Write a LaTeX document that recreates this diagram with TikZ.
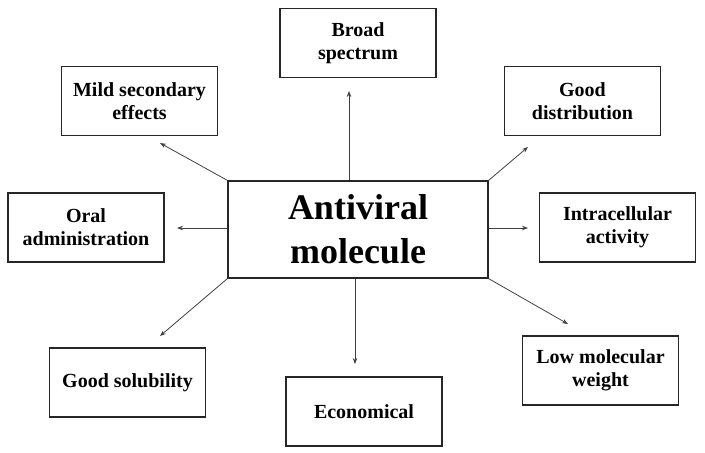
\documentclass[tikz,border=0pt]{standalone}
\usepackage{fontspec}
\setmainfont{Liberation Serif}
\usetikzlibrary{arrows.meta}
\begin{document}
\begin{tikzpicture}[x=1pt,y=-1pt,
  leaf/.style={draw=black!85,line width=1.2pt,minimum width=156pt,minimum height=69pt,
    align=center,inner sep=2pt,font=\fontsize{20}{23}\selectfont\bfseries},
  hub/.style={draw=black!85,line width=1.2pt,minimum width=260pt,minimum height=97pt,
    align=center,inner sep=2pt,font=\fontsize{36}{44}\selectfont\bfseries},
  link/.style={draw=black!75,line width=0.8pt,-{Stealth[length=6pt,width=4.5pt]}}]
\useasboundingbox (0,0) rectangle (705,453);
\node[hub] (c) at (358,229.5) {Antiviral\\molecule};
\node[leaf] (broad) at (358,43) {Broad\\spectrum};
\node[leaf] (mild) at (139.5,101) {Mild secondary\\effects};
\node[leaf] (oral) at (86,227.5) {Oral\\administration};
\node[leaf] (dist) at (582.5,101) {Good\\distribution};
\node[leaf] (intra) at (617.5,227.5) {Intracellular\\activity};
\node[leaf] (sol) at (127.5,382.5) {Good solubility};
\node[leaf] (econ) at (364,411.5) {Economical};
\node[leaf] (low) at (600.5,370.5) {Low molecular\\weight};
\coordinate (tb) at (349,91);
\coordinate (tm) at (160,143);
\coordinate (to) at (177,228);
\coordinate (td) at (528,147);
\coordinate (ti) at (528,228);
\coordinate (ts) at (160,336);
\coordinate (te) at (355,364);
\coordinate (tl) at (568,324);
\draw[link] (c.north -| tb) -- (tb);
\draw[link] (c.north west) -- (tm);
\draw[link] (c.west |- to) -- (to);
\draw[link] (c.north east) -- (td);
\draw[link] (c.east |- ti) -- (ti);
\draw[link] (c.south west) -- (ts);
\draw[link] (c.south -| te) -- (te);
\draw[link] (c.south east) -- (tl);
\end{tikzpicture}
\end{document}
